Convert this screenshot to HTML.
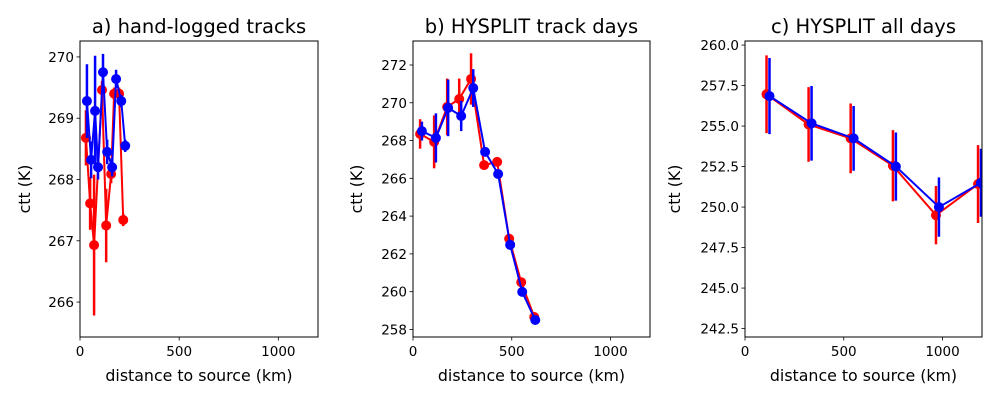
<!DOCTYPE html>
<html><head><meta charset="utf-8"><style>
body{margin:0;background:#fff}
svg text{font-family:"DejaVu Sans","Liberation Sans",sans-serif;fill:#000}
</style></head><body>
<svg id="fig" width="1000" height="400" xmlns="http://www.w3.org/2000/svg"></svg>
<script>
// Panel a data
const aRedX=[30,51,71,111,132,157,172,197,218];
const aRedY=[268.68,267.61,266.93,269.46,267.25,268.09,269.40,269.40,267.34];
const aRedE=[0.45,0.43,1.15,0.15,0.6,0.15,0.1,0.1,0.1];
const aBlueX=[35,56,76,91,116,137,162,182,208,228];
const aBlueY=[269.28,268.32,269.12,268.2,269.75,268.45,268.2,269.64,269.28,268.55];
const aBlueE=[0.6,0.3,0.9,0.2,0.3,0.2,0.15,0.15,0.1,0.1];
// Panel b data
const bRedX=[36,107,173,234,294,360,426,487,548,614];
const bRedY=[268.35,267.93,269.78,270.2,271.26,266.7,266.87,262.8,260.5,258.66];
const bRedE=[0.78,1.4,1.5,1.08,1.36,0.2,0.2,0.2,0.2,0.2];
const bBlueX=[45,116,178,244,305,365,431,492,553,619];
const bBlueY=[268.5,268.14,269.73,269.3,270.78,267.4,266.23,262.48,259.99,258.5];
const bBlueE=[0.5,1.3,1.5,0.8,1.0,0.2,0.2,0.2,0.2,0.2];
// Panel c data
const cRedX=[109,322,535,749,967,1180];
const cRedY=[256.96,255.1,254.24,252.55,249.5,251.42];
const cRedE=[2.4,2.3,2.15,2.2,1.8,2.4];
const cBlueX=[124,337,550,764,982,1195];
const cBlueY=[256.85,255.17,254.24,252.5,250.0,251.5];
const cBlueE=[2.35,2.3,2.0,2.1,1.83,2.1];
const xTicks=[0,500,1000];
const aYTicks=[266,267,268,269,270];
const bYTicks=[258,260,262,264,266,268,270,272];
const cYTicks=[242.5,245,247.5,250,252.5,255,257.5,260];

const NS="http://www.w3.org/2000/svg";
const svg=document.getElementById('fig');
function mk(tag,attrs,parent){const e=document.createElementNS(NS,tag);for(const k in attrs)e.setAttribute(k,attrs[k]);(parent||svg).appendChild(e);return e;}

function panel(key,L,R,T,B,xmin,xmax,ymin,ymax,yTicks,fmt,title,ylx,series){
  const g=mk('g',{});
  
  
  const sx=v=>L+(v-xmin)/(xmax-xmin)*(R-L);
  const sy=v=>B-(v-ymin)/(ymax-ymin)*(B-T);
  const clip=mk('clipPath',{id:'clip'+key},g);
  mk('rect',{x:L,y:T,width:R-L,height:B-T},clip);
  const plot=mk('g',{'clip-path':'url(#clip'+key+')'},g);
  series.forEach(s=>{
    const sg=mk('g',{},plot);
    
    
    s.x.forEach((xv,i)=>{
      const eb=mk('line',{x1:sx(xv),x2:sx(xv),y1:sy(s.y[i]-s.e[i]),y2:sy(s.y[i]+s.e[i]),stroke:s.c,'stroke-width':2.5},sg);
      
      
    });
    const pts=s.x.map((xv,i)=>sx(xv)+','+sy(s.y[i])).join(' ');
    const pl=mk('polyline',{points:pts,fill:'none',stroke:s.c,'stroke-width':2},sg);
    
    
    s.x.forEach((xv,i)=>{
      const c=mk('circle',{cx:sx(xv),cy:sy(s.y[i]),r:5,fill:s.c},sg);
      
      
    });
  });
  const fr=mk('rect',{x:L,y:T,width:R-L,height:B-T,fill:'none',stroke:'#000','stroke-width':1},g);
  
  
  xTicks.forEach(t=>{
    const x=sx(t);
    mk('line',{x1:x,x2:x,y1:B,y2:B+3.5,stroke:'#000','stroke-width':0.8},g);
    const tx=mk('text',{x:x,y:B+19,'font-size':13.5,'text-anchor':'middle'},g);
    tx.textContent=t;
    
    
  });
  yTicks.forEach(t=>{
    const y=sy(t);
    mk('line',{x1:L-3.5,x2:L,y1:y,y2:y,stroke:'#000','stroke-width':0.8},g);
    const tx=mk('text',{x:L-6,y:y+5,'font-size':13.5,'text-anchor':'end'},g);
    tx.textContent=fmt(t);
    
    
  });
  const ti=mk('text',{x:(L+R)/2,y:33,'font-size':19.5,'text-anchor':'middle'},g);
  ti.textContent=title;
  
  
  const xl=mk('text',{x:(L+R)/2,y:381,'font-size':15.8,'text-anchor':'middle'},g);
  xl.textContent='distance to source (km)';
  
  
  const yl=mk('text',{x:ylx,y:(T+B)/2,'font-size':15.8,'text-anchor':'middle',transform:'rotate(-90 '+ylx+' '+(T+B)/2+')'},g);
  yl.textContent='ctt (K)';
  
  
}
panel('a',80,318,41,337,0,1200,265.43,270.26,aYTicks,v=>v.toFixed(0),'a) hand-logged tracks',30,
  [{name:'red',c:'#ff0000',x:aRedX,y:aRedY,e:aRedE},{name:'blue',c:'#0000ff',x:aBlueX,y:aBlueY,e:aBlueE}]);
panel('b',413,650,41,337,0,1200,257.6,273.27,bYTicks,v=>v.toFixed(0),'b) HYSPLIT track days',362,
  [{name:'red',c:'#ff0000',x:bRedX,y:bRedY,e:bRedE},{name:'blue',c:'#0000ff',x:bBlueX,y:bBlueY,e:bBlueE}]);
panel('c',745,982,41,337,0,1200,241.98,260.25,cYTicks,v=>v.toFixed(1),'c) HYSPLIT all days',680,
  [{name:'red',c:'#ff0000',x:cRedX,y:cRedY,e:cRedE},{name:'blue',c:'#0000ff',x:cBlueX,y:cBlueY,e:cBlueE}]);
</script>
</body></html>
